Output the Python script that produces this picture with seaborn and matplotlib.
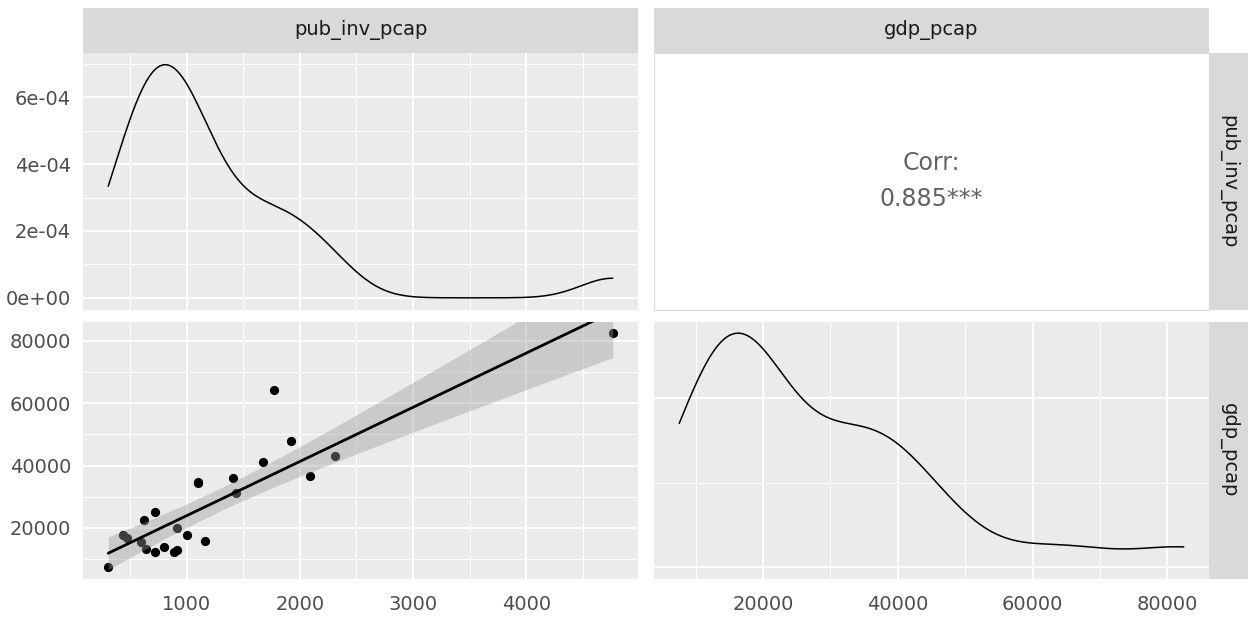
import numpy as np
import pandas as pd
import matplotlib
matplotlib.use("Agg")
import matplotlib.pyplot as plt
from matplotlib.ticker import (FixedLocator, MultipleLocator, FuncFormatter,
                               MaxNLocator, AutoMinorLocator)
import seaborn as sns

# Per-capita public investment and GDP, one value per region
pub_inv_pcap = [305, 437, 473, 593, 623, 638, 717, 717, 802, 888, 914, 917,
                1000, 1096, 1100, 1162, 1409, 1433, 1674, 1774, 1924, 2086, 2313, 4766]
gdp_pcap = [7550, 17600, 16630, 15660, 22590, 13290, 24960, 12220, 14040, 12420,
            20100, 12970, 17730, 34400, 34590, 15980, 35880, 31120, 41270, 64280,
            47880, 36530, 43110, 82430]

variables = ["pub_inv_pcap", "gdp_pcap"]
corr_title = "Corr:"
corr_value = "0.885***"
inv_breaks = [1000, 2000, 3000, 4000]
gdp_breaks = [20000, 40000, 60000, 80000]
density_breaks = [0, 2e-4, 4e-4, 6e-4]

df = pd.DataFrame({"pub_inv_pcap": pub_inv_pcap, "gdp_pcap": gdp_pcap})

sns.set_theme(style="darkgrid")
plt.rcParams["font.family"] = ["DejaVu Sans"]

W, H = 1248, 619
fig = plt.figure(figsize=(W / 100, H / 100), dpi=100)
fig.patch.set_facecolor("white")


def box(x0, y0, x1, y1):
    """Axes rectangle from pixel edges measured from the top-left corner."""
    return [x0 / W, 1 - y1 / H, (x1 - x0) / W, (y1 - y0) / H]


def expand(lo, hi, f=0.05):
    r = hi - lo
    return lo - f * r, hi + f * r


def nrd0_factor(values):
    """Silverman's rule-of-thumb bandwidth expressed as a factor of the SD."""
    v = np.asarray(values, float)
    sd = v.std(ddof=1)
    q75, q25 = np.percentile(v, [75, 25])
    bw = 0.9 * min(sd, (q75 - q25) / 1.34) * len(v) ** -0.2
    return bw / sd


TICK_SIZE = 14
TEXT_GREY = "#4D4D4D"
T_975_DF22 = 2.0739  # two-sided 95% t quantile for n - 2 = 22 degrees of freedom


def style_panel(ax, face="#EBEBEB"):
    ax.set_facecolor(face)
    for s in ax.spines.values():
        s.set_visible(False)
    ax.grid(which="major", color="white", linewidth=1.5)
    ax.grid(which="minor", color="white", linewidth=0.75)
    ax.set_axisbelow(True)
    ax.tick_params(which="major", length=4, width=0.8, color="#333333",
                   labelsize=TICK_SIZE, labelcolor=TEXT_GREY)
    ax.tick_params(axis="x", which="major", pad=8)
    ax.tick_params(axis="y", which="major", pad=4.5)
    ax.tick_params(which="minor", length=0)
    ax.set_xlabel("")
    ax.set_ylabel("")


def strip(rect, label, rotation=0):
    s = fig.add_axes(rect)
    s.set_facecolor("#D9D9D9")
    s.set_xticks([])
    s.set_yticks([])
    for sp in s.spines.values():
        sp.set_visible(False)
    s.grid(False)
    s.text(0.5, 0.5, label, transform=s.transAxes, ha="center", va="center",
           rotation=rotation, fontsize=TICK_SIZE, color="#1A1A1A")
    return s


def density_limits(ax):
    """Density area scale: always includes zero, padded by 5% either side."""
    yd = ax.lines[0].get_ydata()
    return expand(min(0.0, yd.min()), yd.max())


cols = [(83, 638), (654, 1209)]
rows = [(53, 309.5), (321.5, 578.5)]

inv_lim = expand(min(pub_inv_pcap), max(pub_inv_pcap))
gdp_lim = expand(min(gdp_pcap), max(gdp_pcap))

# --- top-left: density of pub_inv_pcap ---
ax00 = fig.add_axes(box(cols[0][0], rows[0][0], cols[0][1], rows[0][1]))
sns.kdeplot(data=df, x="pub_inv_pcap", ax=ax00, bw_method=nrd0_factor(pub_inv_pcap),
            cut=0, gridsize=512, color="black", linewidth=1.1)
ax00.set_xlim(*inv_lim)
ax00.set_ylim(*density_limits(ax00))
ax00.xaxis.set_major_locator(FixedLocator(inv_breaks))
ax00.xaxis.set_minor_locator(MultipleLocator(500))
ax00.yaxis.set_major_locator(FixedLocator(density_breaks))
ax00.yaxis.set_minor_locator(MultipleLocator(1e-4))
ax00.yaxis.set_major_formatter(FuncFormatter(lambda v, p: f"{v:.0e}"))
style_panel(ax00)
ax00.tick_params(axis="x", which="both", length=0, labelbottom=False)

# --- top-right: correlation ---
ax01 = fig.add_axes(box(cols[1][0], rows[0][0], cols[1][1], rows[0][1]))
ax01.set_facecolor("white")
ax01.grid(False)
ax01.set_xticks([])
ax01.set_yticks([])
for sp in ax01.spines.values():
    sp.set_color("#DCDCDC")
    sp.set_linewidth(0.9)
ax01.text(0.5, 0.571, corr_title, transform=ax01.transAxes, ha="center",
          va="center", fontsize=17, color="#636363")
ax01.text(0.5, 0.431, corr_value, transform=ax01.transAxes, ha="center",
          va="center", fontsize=17, color="#636363")

# --- bottom-left: scatter with least-squares line and 95% confidence band ---
ax10 = fig.add_axes(box(cols[0][0], rows[1][0], cols[0][1], rows[1][1]))
sns.scatterplot(data=df, x="pub_inv_pcap", y="gdp_pcap", ax=ax10, color="black",
                s=44, linewidth=0, zorder=1)

x = np.asarray(pub_inv_pcap, float)
y = np.asarray(gdp_pcap, float)
n = len(x)
slope, intercept = np.polyfit(x, y, 1)
resid = y - (intercept + slope * x)
s_err = np.sqrt(np.sum(resid ** 2) / (n - 2))
sxx = np.sum((x - x.mean()) ** 2)
grid = np.linspace(x.min(), x.max(), 120)
fit = intercept + slope * grid
half = T_975_DF22 * s_err * np.sqrt(1.0 / n + (grid - x.mean()) ** 2 / sxx)
ax10.fill_between(grid, fit - half, fit + half, color="#999999", alpha=0.4,
                  linewidth=0, zorder=2)
sns.regplot(data=df, x="pub_inv_pcap", y="gdp_pcap", ax=ax10, scatter=False,
            ci=None, truncate=True, color="black",
            line_kws={"linewidth": 2.0, "zorder": 3})

ax10.set_xlim(*inv_lim)
ax10.set_ylim(*gdp_lim)
ax10.xaxis.set_major_locator(FixedLocator(inv_breaks))
ax10.xaxis.set_minor_locator(MultipleLocator(500))
ax10.yaxis.set_major_locator(FixedLocator(gdp_breaks))
ax10.yaxis.set_minor_locator(MultipleLocator(10000))
ax10.xaxis.set_major_formatter(FuncFormatter(lambda v, p: f"{v:.0f}"))
ax10.yaxis.set_major_formatter(FuncFormatter(lambda v, p: f"{v:.0f}"))
style_panel(ax10)

# --- bottom-right: density of gdp_pcap ---
ax11 = fig.add_axes(box(cols[1][0], rows[1][0], cols[1][1], rows[1][1]))
sns.kdeplot(data=df, x="gdp_pcap", ax=ax11, bw_method=nrd0_factor(gdp_pcap),
            cut=0, gridsize=512, color="black", linewidth=1.1)
ax11.set_xlim(*gdp_lim)
ax11.set_ylim(*density_limits(ax11))
ax11.xaxis.set_major_locator(FixedLocator(gdp_breaks))
ax11.xaxis.set_minor_locator(MultipleLocator(10000))
ax11.xaxis.set_major_formatter(FuncFormatter(lambda v, p: f"{v:.0f}"))
ax11.yaxis.set_major_locator(MaxNLocator(nbins=3, steps=[1, 2, 5, 10]))
ax11.yaxis.set_minor_locator(AutoMinorLocator(2))
style_panel(ax11)
ax11.tick_params(axis="y", which="both", length=0, labelleft=False)

# --- facet strips ---
strip(box(cols[0][0], 8, cols[0][1], rows[0][0]), variables[0])
strip(box(cols[1][0], 8, cols[1][1], rows[0][0]), variables[1])
strip(box(1209, rows[0][0], 1248, rows[0][1]), variables[0], rotation=270)
strip(box(1209, rows[1][0], 1248, rows[1][1]), variables[1], rotation=270)

fig.savefig("out.png", dpi=100, facecolor="white")
